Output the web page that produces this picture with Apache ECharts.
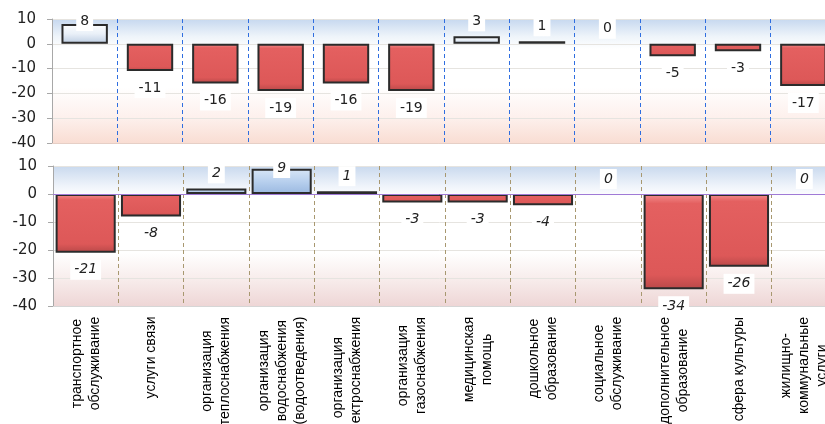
<!DOCTYPE html>
<html>
<head>
<meta charset="utf-8">
<script src="https://cdn.jsdelivr.net/npm/echarts@6/dist/echarts.min.js"></script>
<style>
html,body{margin:0;padding:0;background:#fff;}
#chart{width:825px;height:424px;}
</style>
</head>
<body>
<div id="chart"></div>
<script>
const categories = [
  "транспортное\nобслуживание",
  "услуги связи",
  "организация\nтеплоснабжения",
  "организация\nводоснабжения\n(водоотведения)",
  "организация\nэлектроснабжения",
  "организация\nгазоснабжения",
  "медицинская\nпомощь",
  "дошкольное\nобразование",
  "социальное\nобслуживание",
  "дополнительное\nобразование",
  "сфера культуры",
  "жилищно-\nкоммунальные\nуслуги"
];
const topValues = [8, -11, -16, -19, -16, -19, 3, 1, 0, -5, -3, -17];
const bottomValues = [-21, -8, 2, 9, 1, -3, -3, -4, 0, -34, -26, 0];
const yTicks = { min: -40, max: 10, interval: 10 };

const G = echarts.graphic.LinearGradient;
const catFont = "14px 'Liberation Sans'";
const ctx = document.createElement('canvas').getContext('2d');
ctx.font = catFont;
const rich = {};
categories.forEach((c, i) => {
  const w = Math.max(...c.split('\n').map(l => ctx.measureText(l).width));
  rich['r' + i] = { width: Math.ceil(w) + 1, align: 'center', fontSize: 14, lineHeight: 18,
    fontFamily: 'Liberation Sans', color: '#000' };
});

const redFill = new G(0, 0, 0, 1, [
  { offset: 0, color: '#f49090' }, { offset: 0.1, color: '#e46060' },
  { offset: 0.85, color: '#dd5858' }, { offset: 1, color: '#b84848' }]);
const topPosFill = new G(0, 0, 0, 1, [
  { offset: 0, color: '#ffffff' }, { offset: 0.5, color: '#e9f0f8' }, { offset: 1, color: '#bccde2' }]);
const botPosFill = new G(0, 0, 0, 1, [
  { offset: 0, color: '#d8e6f7' }, { offset: 0.5, color: '#b8d0ee' }, { offset: 1, color: '#9ab8e0' }]);

function makeData(vals, posFill) {
  return vals.map(v => ({
    value: v,
    itemStyle: { color: v >= 0 ? posFill : redFill, borderWidth: v === 0 ? 0 : 2 },
    label: { position: v >= 0 ? 'top' : 'bottom', distance: v >= 0 ? 5 : 7 }
  }));
}

const grids = [
  { left: 52, top: 19, width: 784, height: 124 },
  { left: 53, top: 166, width: 784, height: 140 }
];
const bgTop = new G(0, 0, 0, 1, [
  { offset: 0, color: '#c6d8ef' }, { offset: 0.14, color: '#eef4fa' }, { offset: 0.24, color: '#ffffff' },
  { offset: 0.55, color: '#ffffff' }, { offset: 0.8, color: '#fdf0ec' }, { offset: 1, color: '#f9ddd3' }]);
const bgBot = new G(0, 0, 0, 1, [
  { offset: 0, color: '#c9d9ee' }, { offset: 0.14, color: '#eef3fa' }, { offset: 0.22, color: '#ffffff' },
  { offset: 0.62, color: '#ffffff' }, { offset: 0.82, color: '#f7ebea' }, { offset: 1, color: '#eed6d6' }]);

function yAxis(gi) {
  return {
    type: 'value', gridIndex: gi, min: yTicks.min, max: yTicks.max, interval: yTicks.interval,
    axisLine: { show: true, lineStyle: { color: '#a8a8a8' } },
    axisTick: { show: true, length: 5, lineStyle: { color: '#a8a8a8' } },
    axisLabel: { margin: 16, fontFamily: 'DejaVu Sans', fontSize: 15, color: '#222' },
    splitLine: { show: true, lineStyle: { color: '#e6e4e0' } }
  };
}
function labelClamp(gi) {
  return function (p) {
    const minY = grids[gi].top - 8;
    if (p.labelRect.y < minY) return { dy: minY - p.labelRect.y };
    return {};
  };
}

const option = {
  animation: false,
  backgroundColor: '#fff',
  grid: [
    Object.assign({ show: true, borderWidth: 0, backgroundColor: bgTop, outerBoundsMode: 'none', containLabel: false }, grids[0]),
    Object.assign({ show: true, borderWidth: 0, backgroundColor: bgBot, outerBoundsMode: 'none', containLabel: false }, grids[1])
  ],
  xAxis: [
    {
      type: 'category', gridIndex: 0, data: categories,
      axisLine: { show: true, onZero: false, lineStyle: { color: '#e6cfc6' } },
      axisTick: { show: false }, axisLabel: { show: false, interval: 0 },
      splitLine: { show: true, interval: 0, lineStyle: { color: '#2f6ee0', type: [4, 3], width: 1 } }
    },
    {
      type: 'category', gridIndex: 1, data: categories,
      axisLine: { show: true, onZero: false, lineStyle: { color: '#d6d6d6' } },
      axisTick: { show: false },
      axisLabel: {
        interval: 0, rotate: 90, margin: 10,
        formatter: (val, idx) => val.split('\n').map(l => '{r' + idx + '|' + l + '}').join('\n'),
        rich: rich
      },
      splitLine: { show: true, interval: 0, lineStyle: { color: '#a89870', type: [4, 3], width: 1 } }
    }
  ],
  yAxis: [yAxis(0), yAxis(1)],
  series: [
    {
      type: 'bar', xAxisIndex: 0, yAxisIndex: 0, barCategoryGap: '29%',
      data: makeData(topValues, topPosFill),
      itemStyle: { borderColor: '#2b2b2b', borderWidth: 2 },
      label: {
        show: true, fontFamily: 'DejaVu Sans', fontSize: 14, color: '#222',
        backgroundColor: '#ffffff', padding: [3, 4]
      },
      labelLayout: labelClamp(0)
    },
    {
      type: 'bar', xAxisIndex: 1, yAxisIndex: 1, barCategoryGap: '8%',
      data: makeData(bottomValues, botPosFill),
      itemStyle: { borderColor: '#2b2b2b', borderWidth: 2 },
      label: {
        show: true, fontFamily: 'DejaVu Sans', fontSize: 14, fontStyle: 'italic', color: '#222',
        backgroundColor: '#ffffff', padding: [3, 4]
      },
      labelLayout: labelClamp(1),
      markLine: {
        silent: true, symbol: 'none', label: { show: false },
        lineStyle: { color: '#a07ad6', type: 'solid', width: 1 },
        data: [{ yAxis: 0 }]
      }
    }
  ]
};

const chart = echarts.init(document.getElementById('chart'), null, { renderer: 'canvas' });
chart.setOption(option);
</script>
</body>
</html>
